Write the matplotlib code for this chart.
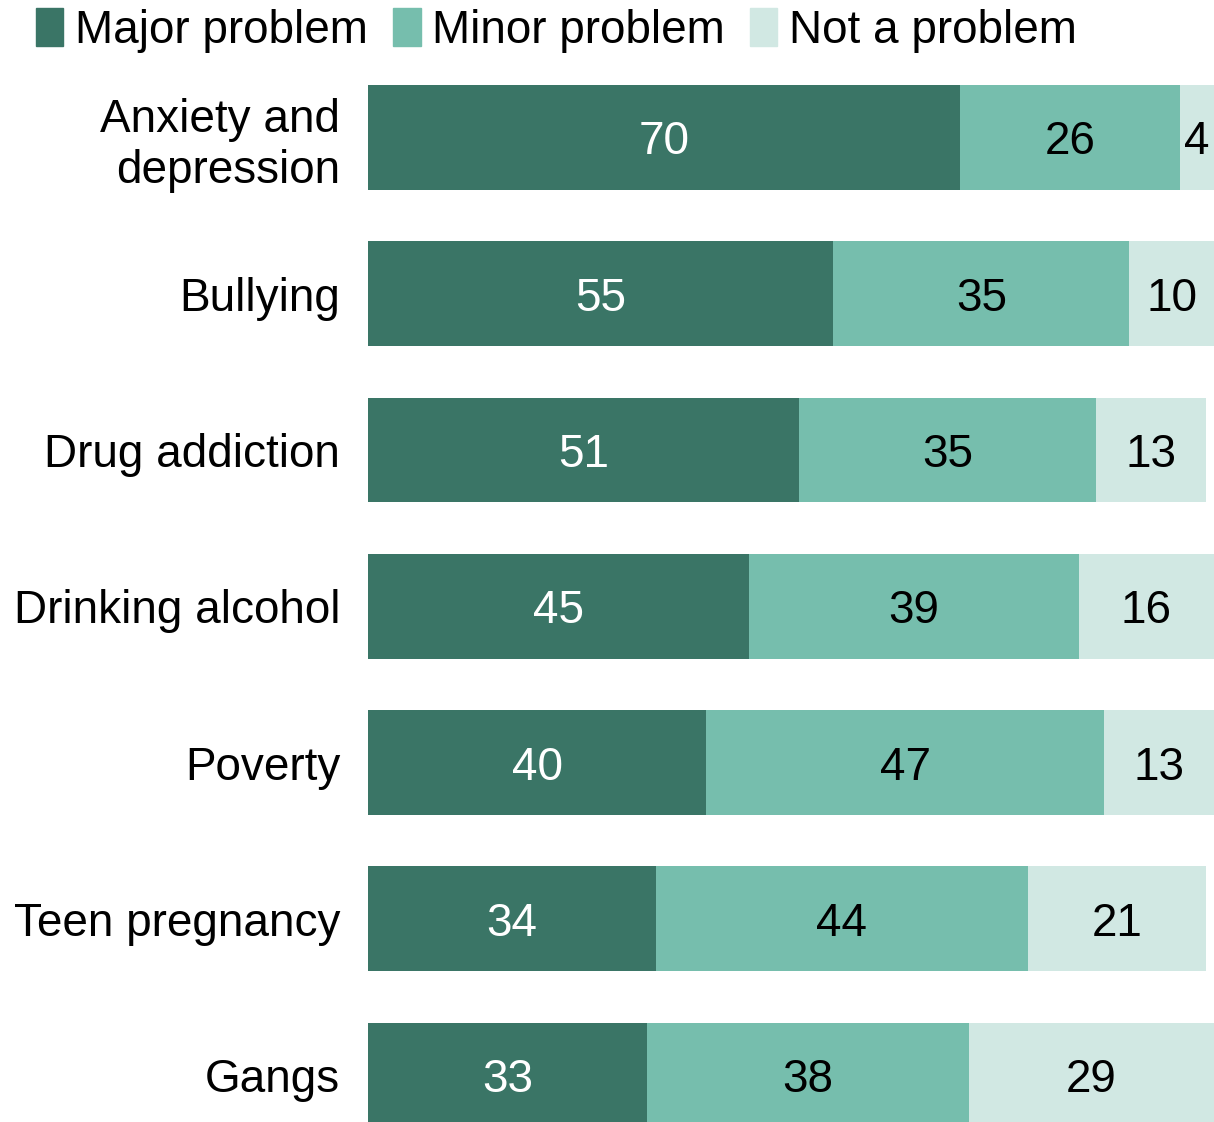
import numpy as np
import matplotlib.pyplot as plt
from matplotlib.patches import Patch

# data
categories = ['Anxiety and\ndepression', 'Bullying', 'Drug addiction', 'Drinking alcohol',
              'Poverty', 'Teen pregnancy', 'Gangs']
major = [70, 55, 51, 45, 40, 34, 33]
minor = [26, 35, 35, 39, 47, 44, 38]
not_problem = [4, 10, 13, 16, 13, 21, 29]
series_names = ['Major problem', 'Minor problem', 'Not a problem']

colors = ['#3a7566', '#76bead', '#d1e8e3']
text_colors = ['white', 'black', 'black']

plt.rcParams['font.family'] = ['Liberation Sans', 'DejaVu Sans']

fig = plt.figure(figsize=(12.14, 11.22), dpi=100)
ax = fig.add_axes([368/1214, 0.0, 1 - 368/1214, 1 - 85/1122])

y = np.arange(len(categories))
left = np.zeros(len(categories))
for vals, col, tcol in zip([major, minor, not_problem], colors, text_colors):
    vals = np.array(vals)
    ax.barh(y, vals, left=left, height=0.67, color=col)
    for yi, l, v in zip(y, left, vals):
        ax.text(l + v / 2, yi, str(v), ha='center', va='center_baseline', color=tcol, fontsize=33)
    left = left + vals

ax.set_xlim(0, 100)
ax.set_ylim(6.3, -0.335)
ax.set_yticks(y)
ax.set_yticklabels(categories, fontsize=33, ha='right', linespacing=1.2)
ax.tick_params(axis='y', length=0, pad=20)
ax.set_xticks([])
for s in ax.spines.values():
    s.set_visible(False)

handles = [Patch(color=c) for c in colors]
fig.legend(handles, series_names, loc='upper left', bbox_to_anchor=(0.007, 1.017),
           ncol=3, frameon=False, fontsize=33, handlelength=0.6, handleheight=0.9,
           handletextpad=0.25, columnspacing=0.55, borderpad=0.1)

plt.savefig('out.png', dpi=100)
